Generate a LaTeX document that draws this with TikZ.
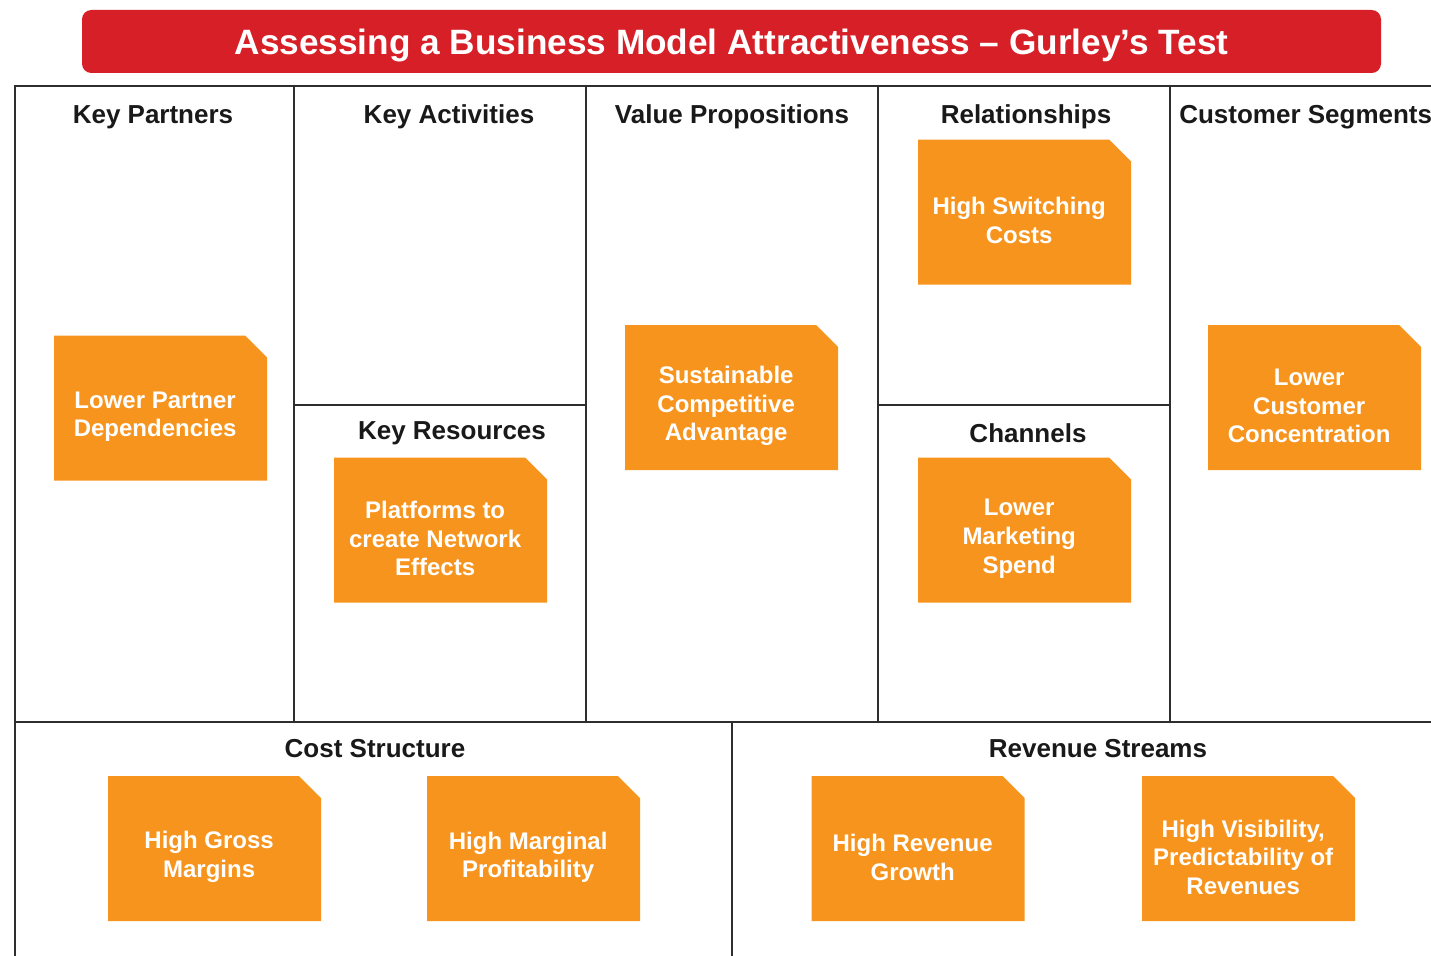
\documentclass[tikz,border=0pt]{standalone}
\usepackage{fontspec}
\setmainfont{Liberation Sans}
\definecolor{titlered}{HTML}{D71F27}
\definecolor{noteorange}{HTML}{F7941D}
\definecolor{gridgray}{HTML}{2E2E2E}
\tikzset{
  grid line/.style={draw=gridgray, line width=2pt},
  cell label/.style={anchor=base, font=\bfseries\fontsize{19.5}{23}\selectfont, text=black!90, inner sep=0pt},
  notebox/.style={draw=none, minimum width=159.75pt, minimum height=108.75pt, inner sep=0pt, outer sep=0pt},
  notetext/.style={align=center, text=white, font=\bfseries\fontsize{18}{21.5}\selectfont, inner sep=0pt},
  titlebox/.style={fill=titlered, rounded corners=7pt, minimum width=974.25pt, minimum height=47.25pt, inner sep=0pt},
  titletext/.style={anchor=base, text=white, font=\bfseries\fontsize{26.4}{30}\selectfont, inner sep=0pt},
}
\newcommand\stickynote[4]{%
  \node[notebox] (#1) at (#2,#3) {};
  \fill[noteorange] (#1.south west) |- ([xshift=-16.5pt]#1.north east) -- ([yshift=-16.5pt]#1.north east) -- (#1.south east) -- cycle;
  \node[notetext] (#1t) at ([xshift=-4pt,yshift=-6.5pt]#1.center) {#4};
}
\begin{document}
\begin{tikzpicture}[x=0.75pt, y=-0.75pt]
\useasboundingbox (0,0) rectangle (1431,956);
\clip (0,0) rectangle (1431,956);

% title
\node[titlebox] (title) at (731.5,41.5) {};
\node[titletext] (titlet) at (731.5,55) {Assessing a Business Model Attractiveness -- Gurley's Test};

% grid
\draw[grid line] (1445,86) -- (15,86) -- (15,970);
\draw[grid line] (15,722) -- (1445,722);
\draw[grid line] (294,86) -- (294,722);
\draw[grid line] (586,86) -- (586,722);
\draw[grid line] (878,86) -- (878,722);
\draw[grid line] (1170,86) -- (1170,722);
\draw[grid line] (294,405) -- (586,405);
\draw[grid line] (878,405) -- (1170,405);
\draw[grid line] (732,722) -- (732,970);

% cell labels
\node[cell label] (kp) at (153,123) {Key Partners};
\node[cell label] (ka) at (449,123) {Key Activities};
\node[cell label] (vp) at (732,123) {Value Propositions};
\node[cell label] (rel) at (1026,123) {Relationships};
\node[cell label, anchor=base west] (cs) at (1179,123) {Customer Segments};
\node[cell label] (kr) at (452,439) {Key Resources};
\node[cell label] (ch) at (1028,442) {Channels};
\node[cell label] (cost) at (375,757) {Cost Structure};
\node[cell label] (rev) at (1098,757) {Revenue Streams};

% notes
\stickynote{lpd}{160.5}{408}{Lower Partner\\Dependencies}
\stickynote{hsc}{1024.5}{212}{High Switching\\Costs}
\stickynote{sca}{731.5}{397.5}{Sustainable\\Competitive\\Advantage}
\stickynote{pne}{440.5}{530}{Platforms to\\create Network\\Effects}
\stickynote{lms}{1024.5}{530}{Lower\\Marketing\\Spend}
\stickynote{lcc}{1314.5}{397.5}{Lower\\Customer\\Concentration}
\stickynote{hgm}{214.5}{848.5}{High Gross\\Margins}
\stickynote{hmp}{533.5}{848.5}{High Marginal\\Profitability}
\stickynote{hrg}{918}{848.5}{High Revenue\\Growth}
\stickynote{hvp}{1248.5}{848.5}{High Visibility,\\Predictability of\\Revenues}
\end{tikzpicture}
\end{document}
